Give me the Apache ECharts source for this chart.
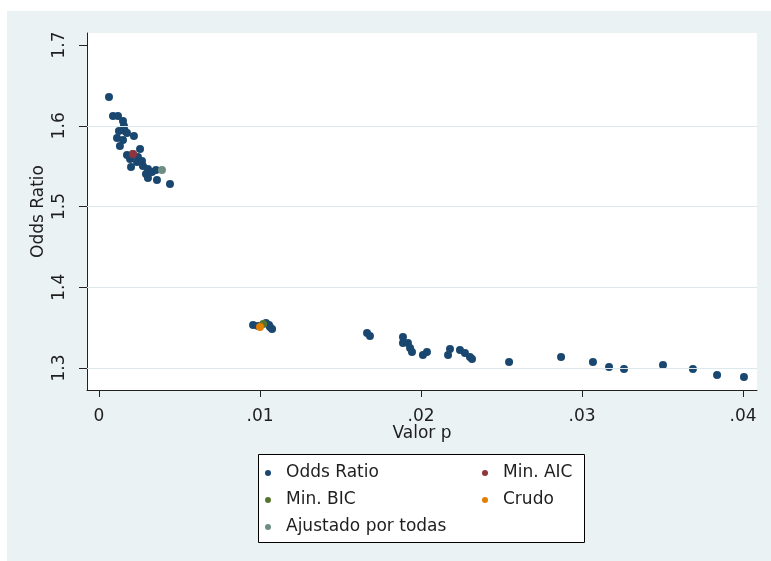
<!DOCTYPE html>
<html>
<head>
<meta charset="utf-8">
<script src="https://cdn.jsdelivr.net/npm/echarts@6/dist/echarts.min.js"></script>
<style>
html,body{margin:0;padding:0;background:#fff;}
#c{width:771px;height:561px;}
</style>
</head>
<body>
<div id="c"></div>
<script>
// Odds Ratio points: [Valor p, Odds Ratio]
var oddsRatio = [
  [0.00062,1.6356],[0.00087,1.6121],[0.00118,1.6121],[0.00149,1.6059],[0.00155,1.5997],
  [0.00124,1.5935],[0.00161,1.5935],[0.00174,1.5910],[0.00217,1.5873],[0.00112,1.5848],
  [0.00149,1.5824],[0.00130,1.5749],[0.00255,1.5712],[0.00174,1.5638],[0.00211,1.5650],
  [0.00193,1.5588],[0.00242,1.5613],[0.00236,1.5551],[0.00267,1.5563],[0.00273,1.5502],
  [0.00199,1.5489],[0.00304,1.5464],[0.00292,1.5402],[0.00329,1.5427],[0.00354,1.5452],
  [0.00304,1.5353],[0.00360,1.5328],[0.00441,1.5279],
  [0.00957,1.3532],[0.00988,1.3520],[0.01037,1.3557],[0.01056,1.3532],[0.01062,1.3508],
  [0.01075,1.3483],[0.01665,1.3433],[0.01683,1.3396],[0.01888,1.3384],[0.01888,1.3310],
  [0.01919,1.3310],[0.01932,1.3248],[0.01944,1.3198],[0.02012,1.3161],[0.02037,1.3198],
  [0.02180,1.3235],[0.02168,1.3161],[0.02242,1.3223],[0.02273,1.3186],[0.02304,1.3136],
  [0.02317,1.3111],
  [0.02547,1.3074],[0.02870,1.3136],[0.03068,1.3074],[0.03168,1.3012],[0.03261,1.2988],
  [0.03503,1.3037],[0.03689,1.2988],[0.03839,1.2913],[0.04006,1.2889]
];
var minAIC = [[0.00211,1.5650]];
var minBIC = [[0.01020,1.3545]];
var crudo = [[0.01000,1.3508]];
var ajustado = [[0.00391,1.5452]];

var xTicks = [0, 0.01, 0.02, 0.03, 0.04];
var yTicks = [1.3, 1.4, 1.5, 1.6, 1.7];
var yGridLines = [1.3, 1.4, 1.5, 1.6];

var FONT = 'DejaVu Sans';
var TXT = '#1e1e1e';
var FS = 17;

var chart = echarts.init(document.getElementById('c'));
function sc(name, data, color, z){
  return {name:name, type:'scatter', data:data, symbol:'circle', symbolSize:8,
    itemStyle:{color:color, opacity:1}, z:z, animation:false, silent:true};
}
var option = {
  backgroundColor:'#ffffff',
  animation:false,
  graphic:[
    {type:'rect', z:-100, shape:{x:7,y:11,width:764,height:550}, style:{fill:'#eaf2f3'}, silent:true},
    {type:'rect', z:1, shape:{x:258.5,y:454.5,width:326,height:88}, style:{fill:'#fff', stroke:'#000', lineWidth:1}, silent:true}
  ],
  grid:{left:87, right:14, top:33, bottom:171, show:true, backgroundColor:'#fff', borderWidth:0, containLabel:false},
  xAxis:{
    type:'value', min:-0.000745, max:0.04087,
    name:'Valor p', nameLocation:'middle', nameGap:35, nameMoveOverlap:false,
    nameTextStyle:{fontFamily:FONT, fontSize:FS, color:TXT},
    axisLine:{show:true, onZero:false, lineStyle:{color:'#222', width:1}},
    axisTick:{show:true, length:7, customValues:xTicks, lineStyle:{color:'#222'}},
    axisLabel:{customValues:xTicks, margin:18, fontFamily:FONT, fontSize:FS, color:TXT,
      formatter:function(v){ return v===0 ? '0' : v.toFixed(2).replace(/^0/,''); }},
    splitLine:{show:false}
  },
  yAxis:{
    type:'value', min:1.2728, max:1.7149,
    name:'Odds Ratio', nameLocation:'middle', nameGap:40, nameMoveOverlap:false,
    nameTextStyle:{fontFamily:FONT, fontSize:FS, color:TXT},
    axisLine:{show:true, onZero:false, lineStyle:{color:'#222', width:1}},
    axisTick:{show:true, length:8, customValues:yTicks, lineStyle:{color:'#222'}},
    axisLabel:{customValues:yTicks, margin:19, rotate:90, fontFamily:FONT, fontSize:FS, color:TXT,
      formatter:function(v){ return v.toFixed(1); }},
    splitLine:{show:false}
  },
  legend:[
    {data:['Odds Ratio','Min. BIC','Ajustado por todas'], orient:'vertical', left:265, top:463, padding:0,
     itemWidth:26, itemHeight:6, itemGap:7, icon:'circle', selectedMode:false,
     textStyle:{fontFamily:FONT, fontSize:FS, color:TXT, lineHeight:20}},
    {data:['Min. AIC','Crudo'], orient:'vertical', left:482, top:463, padding:0,
     itemWidth:26, itemHeight:6, itemGap:7, icon:'circle', selectedMode:false,
     textStyle:{fontFamily:FONT, fontSize:FS, color:TXT, lineHeight:20}}
  ],
  series:[
    {name:'grid', type:'scatter', data:[], z:1, silent:true,
     markLine:{silent:true, symbol:'none', animation:false, label:{show:false},
       lineStyle:{color:'#dde8ec', type:'solid', width:1},
       data:yGridLines.map(function(v){return {yAxis:v};})}},
    sc('Odds Ratio', oddsRatio, '#1a476f', 2),
    sc('Min. AIC', minAIC, '#90353b', 3),
    sc('Min. BIC', minBIC, '#55752f', 3),
    sc('Crudo', crudo, '#e37e00', 4),
    sc('Ajustado por todas', ajustado, '#6e8e84', 3)
  ]
};
chart.setOption(option);
</script>
</body>
</html>
